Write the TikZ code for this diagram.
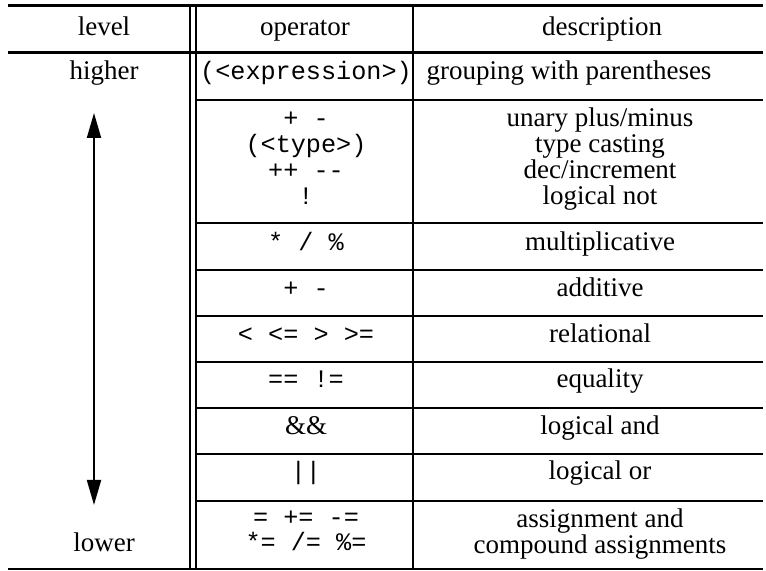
\documentclass[tikz,border=0pt]{standalone}
\usepackage{fontspec}
\setmainfont{Liberation Serif}
\setmonofont{Liberation Mono}
\usetikzlibrary{arrows.meta}

\tikzset{
    txt/.style={anchor=base, align=center, inner sep=0pt, font=\fontsize{13.5}{13}\selectfont},
    op/.style={anchor=base, align=center, inner sep=0pt, font=\ttfamily\fontsize{12.6}{13}\selectfont},
    thickrule/.style={line width=1.5pt},
    rowrule/.style={line width=0.75pt},
    colrule/.style={line width=0.7pt},
    levelarrow/.style={line width=1pt, {Triangle[length=12.5pt,width=7pt]}-{Triangle[length=12.5pt,width=7pt]}},
}

\begin{document}
\begin{tikzpicture}[x=0.5pt, y=-0.5pt]
\useasboundingbox (0,0) rectangle (766,571);

    \draw[thickrule] (8,6) -- (763,6);
    \draw[thickrule] (8,53) -- (763,53);
    \draw[line width=0.5pt] (8,569) -- (763,569);
    \draw[colrule] (190,6) -- (190,569);
    \draw[colrule] (196,6) -- (196,569);
    \draw[colrule] (413,6) -- (413,569);
    \foreach \y in {100,223,270,316,362,408,454,501}
        \draw[rowrule] (196,\y) -- (763,\y);

    \node[txt] (hlevel) at (104,36) {level};
    \node[txt] (hop)    at (305,36) {operator};
    \node[txt] (hdesc)  at (602,36) {description};

    \node[txt] (higher) at (104,80)  {higher};
    \node[txt] (lower)  at (104,552) {lower};

    \coordinate (up)   at (94,113);
    \coordinate (down) at (94,505);
    \draw[levelarrow] (down) -- (up);

    % multi-line cells sit on the baseline of their last line
    \node[op] (op1) at (306,80)  {(<expression>)};
    \node[op] (op2) at (306,205) {+ -\\(<type>)\\++ -{}-\\!};
    \node[op] (op3) at (306,251) {* / \%};
    \node[op] (op4) at (306,297) {+ -};
    \node[op] (op5) at (306,343) {< <= > >=};
    \node[op] (op6) at (306,388) {== !=};
    \node[txt] (op7) at (306,435) {\&\&};
    \node[op] (op8) at (306,480) {||};
    \node[op] (op9) at (306,551) {= += -=\\*= /= \%=};

    \node[txt] (d1) at (569,80)  {grouping with parentheses};
    \node[txt] (d2) at (600,205) {unary plus/minus\\type casting\\dec/increment\\logical not};
    \node[txt] (d3) at (600,251) {multiplicative};
    \node[txt] (d4) at (600,297) {additive};
    \node[txt] (d5) at (600,343) {relational};
    \node[txt] (d6) at (600,388) {equality};
    \node[txt] (d7) at (600,435) {logical and};
    \node[txt] (d8) at (600,480) {logical or};
    \node[txt] (d9) at (600,553) {assignment and\\compound assignments};

\end{tikzpicture}
\end{document}
